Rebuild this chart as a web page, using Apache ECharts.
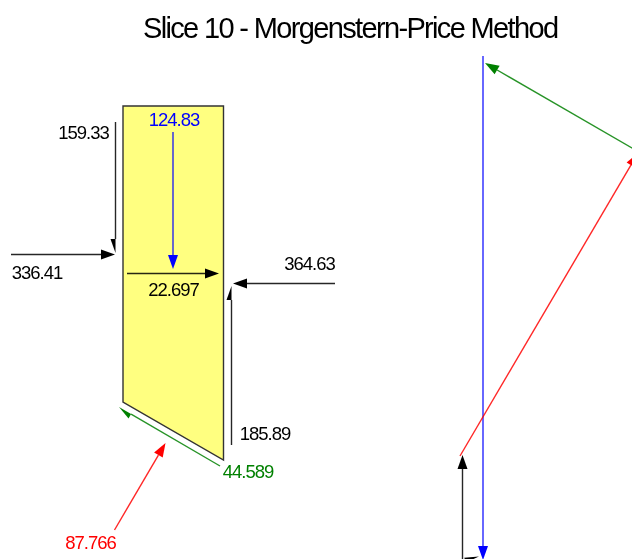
<!DOCTYPE html>
<html>
<head>
<meta charset="utf-8">
<script src="https://cdn.jsdelivr.net/npm/echarts@6/dist/echarts.min.js"></script>
<style>
  html, body { margin: 0; padding: 0; background: #fff; }
  /* the original is a slightly soft screenshot */
  #chart { width: 632px; height: 559px; filter: blur(0.5px); }
  /* the original text is set tight */
  #chart text { letter-spacing: -0.057em; }
</style>
</head>
<body>
<div id="chart"></div>
<script>
const titleText = 'Slice 10 - Morgenstern-Price Method';

// slice outline
const sliceX = [123, 223.5, 223.5, 123];
const sliceY = [106, 106, 460, 402];

// forces on the slice (left) and the force polygon (right)
const forceKind = ['side', 'side', 'weight', 'side', 'side', 'side', 'shear', 'normal',
                   'weight', 'shear', 'normal', 'side', 'side'];
const forceX1 = [115.5, 11, 173, 127, 335, 231.5, 220, 114.5, 483, 640, 460, 462.5, 462.5];
const forceY1 = [122, 254.5, 132, 273.5, 283.5, 445, 466, 530, 56, 152.6, 456, 575, 564];
const forceX2 = [115.5, 115, 173, 219, 233, 231.5, 119, 165.5, 483, 485, 638, 462.5, 479];
const forceY2 = [253, 254.5, 269, 273.5, 283.5, 286, 407, 443, 560, 63, 153, 455, 556.5];
// which side of the shaft the arrow head is drawn on: 0 both, 1 / -1 one side only
const forceHead = [1, 0, 0, 0, 0, -1, -1, 0, 0, 0, 0, 0, -1];

const labelText = ['159.33', '124.83', '336.41', '22.697', '364.63', '185.89', '44.589', '87.766'];
const labelKind = ['side', 'weight', 'side', 'side', 'side', 'side', 'shear', 'normal'];
const labelX = [83.5, 174, 37, 173.5, 309.5, 265, 248, 90.5];
const labelY = [132, 119, 272, 289, 263, 433, 471, 542];

const kindColor = { side: '#000000', weight: '#0000ff', shear: '#008000', normal: '#ff0000' };

const chart = echarts.init(document.getElementById('chart'), null, { renderer: 'svg' });

function renderArrow(params, api) {
  const i = params.dataIndex;
  const a = api.coord([forceX1[i], forceY1[i]]);
  const b = api.coord([forceX2[i], forceY2[i]]);
  const color = kindColor[forceKind[i]];
  const len = Math.hypot(b[0] - a[0], b[1] - a[1]);
  const ux = (b[0] - a[0]) / len, uy = (b[1] - a[1]) / len;
  const bx = b[0] - ux * 14, by = b[1] - uy * 14;
  const nx = -uy * 5, ny = ux * 5;
  const side = forceHead[i];
  const c1 = side < 0 ? [bx, by] : [bx + nx, by + ny];
  const c2 = side > 0 ? [bx, by] : [bx - nx, by - ny];
  return {
    type: 'group',
    children: [
      {
        type: 'line',
        shape: { x1: a[0], y1: a[1], x2: bx, y2: by },
        style: { stroke: color, lineWidth: 1.4, opacity: 0.85 }
      },
      {
        type: 'polygon',
        shape: { points: [b, c1, c2] },
        style: { fill: color }
      }
    ]
  };
}

chart.setOption({
  animation: false,
  title: {
    text: titleText,
    left: 138,
    top: 8,
    textStyle: { fontFamily: 'Liberation Sans', fontSize: 29, fontWeight: 'normal', color: '#000' }
  },
  grid: { left: 0, right: 0, top: 0, bottom: 0 },
  xAxis: { type: 'value', min: 0, max: 632, show: false },
  yAxis: { type: 'value', min: 0, max: 559, inverse: true, show: false },
  series: [
    {
      type: 'custom',
      silent: true,
      data: [0],
      renderItem: function (params, api) {
        return {
          type: 'polygon',
          shape: { points: sliceX.map((x, i) => api.coord([x, sliceY[i]])) },
          style: { fill: '#ffff80', stroke: '#333', lineWidth: 1.4 }
        };
      }
    },
    {
      type: 'custom',
      silent: true,
      data: forceX1.map((x, i) => i),
      renderItem: renderArrow
    },
    {
      type: 'custom',
      silent: true,
      data: labelText.map((t, i) => i),
      renderItem: function (params, api) {
        const i = params.dataIndex;
        const p = api.coord([labelX[i], labelY[i]]);
        return {
          type: 'text',
          style: {
            text: labelText[i],
            x: p[0],
            y: p[1],
            align: 'center',
            verticalAlign: 'middle',
            fill: kindColor[labelKind[i]],
            fontFamily: 'Liberation Sans',
            fontSize: 18.5
          }
        };
      }
    }
  ]
});
</script>
</body>
</html>
